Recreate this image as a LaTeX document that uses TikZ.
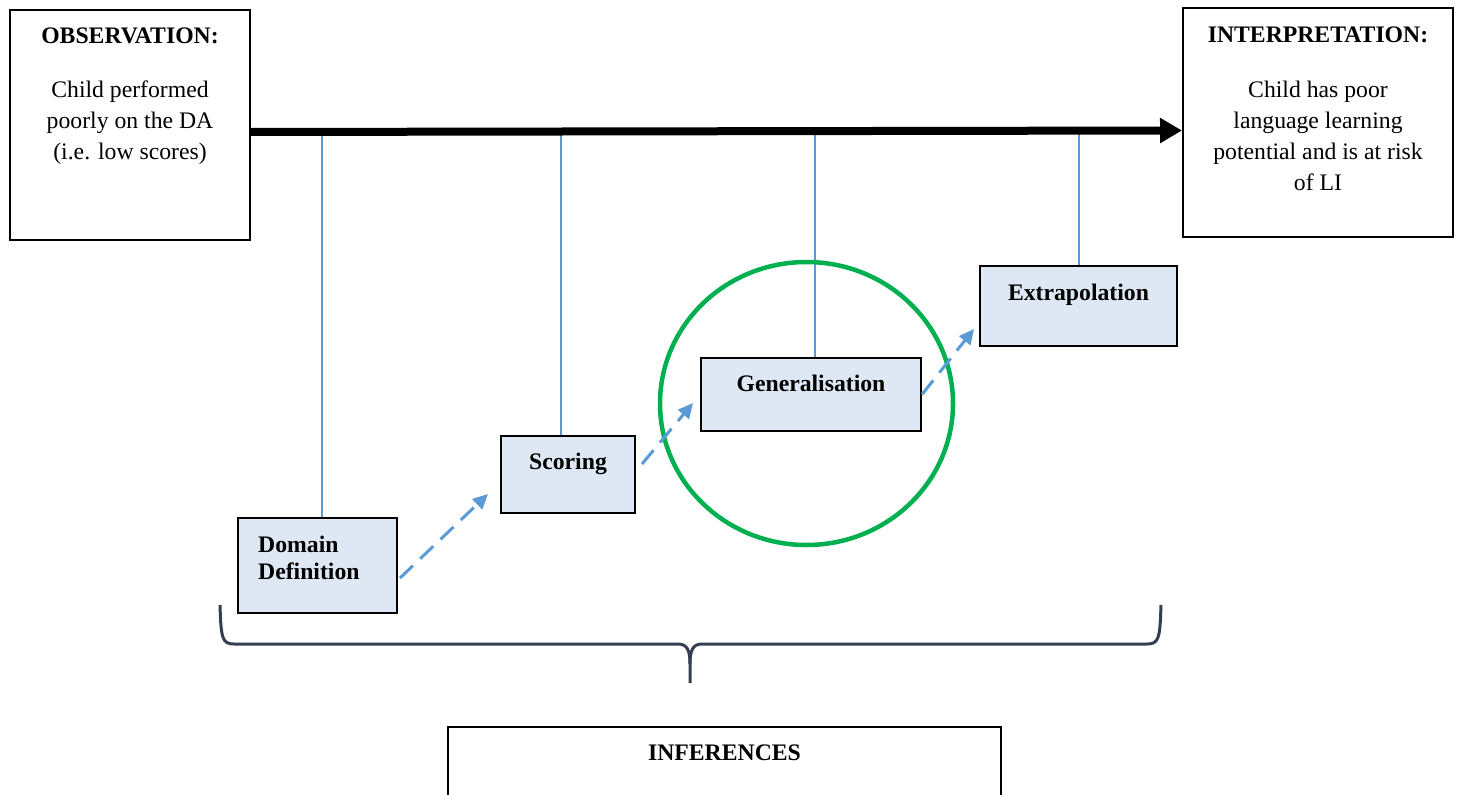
\documentclass[tikz,border=0pt]{standalone}
\usepackage{fontspec}
\setmainfont{Liberation Serif}
\usetikzlibrary{arrows.meta,calc}
\definecolor{boxblue}{HTML}{DEE8F4}
\definecolor{lineblue}{HTML}{5B9BD5}
\definecolor{circgreen}{HTML}{00B050}
\definecolor{bracec}{HTML}{333F50}
\begin{document}
\begin{tikzpicture}[x=1pt,y=-1pt,
  frame/.style={draw=black, line width=2pt, inner sep=0pt, anchor=north west, fill=white},
  stepbox/.style={frame, fill=boxblue},
  ttl/.style={font=\bfseries\fontsize{23.7}{27}\selectfont, inner sep=0pt},
  body/.style={font=\fontsize{23.7}{31}\selectfont, align=center, anchor=north, inner sep=0pt},
  dasharr/.style={draw=lineblue, line width=3pt, dash pattern=on 18pt off 10pt, -{Triangle[length=15pt,width=14pt]}},
  vline/.style={draw=lineblue, line width=1.4pt}]
\useasboundingbox (0,0) rectangle (1459,795);
\clip (0,0) rectangle (1459,795);

% outer boxes
\node[frame, minimum width=240, minimum height=230] (obs) at (9,9) {};
\node[ttl, anchor=base] (obsT) at ($(obs.north)+(0,34)$) {OBSERVATION:};
\node[body] (obsB) at ($(obs.north)+(0,71.5)$) {Child performed\\poorly on the DA\\(i.e. low scores)};

\node[frame, minimum width=270, minimum height=229] (int) at (1182,7) {};
\node[ttl, anchor=base] (intT) at ($(int.north)+(0,35)$) {INTERPRETATION:};
\node[body] (intB) at ($(int.north)+(0,73.5)$) {Child has poor\\language learning\\potential and is at risk\\of LI};

% inference steps
\node[stepbox, minimum width=159, minimum height=95] (dom) at (237,517) {};
\node[ttl, align=left, anchor=north west, font=\bfseries\fontsize{23.7}{27}\selectfont] (domT) at ($(dom.north west)+(21,18.8)$) {Domain\\Definition};

\node[stepbox, minimum width=134, minimum height=77] (scr) at (500,435) {};
\node[ttl, anchor=base] (scrT) at ($(scr.north)+(0,34)$) {Scoring};

\node[stepbox, minimum width=220, minimum height=73] (gen) at (700,357) {};
\node[ttl, anchor=base] (genT) at ($(gen.north)+(0,34)$) {Generalisation};

\node[stepbox, minimum width=197, minimum height=80] (ext) at (979,265) {};
\node[ttl, anchor=base] (extT) at ($(ext.north)+(0,35)$) {Extrapolation};

% thin links from the main arrow
\coordinate (v1) at (322,132);
\coordinate (v2) at (561,132);
\coordinate (v3) at (815,132);
\coordinate (v4) at (1079,131);
\draw[vline] (v1) -- (v1 |- dom.north);
\draw[vline] (v2) -- (v2 |- scr.north);
\draw[vline] (v3) -- (v3 |- gen.north);
\draw[vline] (v4) -- (v4 |- ext.north);

% main arrow
\draw[line width=8pt, -{Triangle[length=22pt,width=24pt]}] ($(obs.east)+(0,7)$) -- ($(int.west)+(0,8)$);

% highlight
\draw[circgreen, line width=4.5pt] (806.5,403.5) ellipse [x radius=146.5, y radius=141.5];

% dashed progression arrows
\draw[dasharr] ($(dom.east)+(2,12.5)$) -- ($(scr.west)+(-12,19.5)$);
\draw[dasharr] ($(scr.east)+(6,-10.5)$) -- ($(gen.west)+(-7,8.5)$);
\draw[dasharr] ($(gen.east)+(0,0)$) -- ($(ext.west)+(-5,23)$);

% brace
\coordinate (bl) at (220,605);
\coordinate (br) at (1161,605);
\coordinate (bt) at (690,683);
\draw[bracec, line width=3pt, line join=round]
  (bl) .. controls (221,638) and (222,644) .. (234,644) -- (678,644)
  .. controls (687,644) and (690,650) .. (690,664) -- (bt);
\draw[bracec, line width=3pt, line join=round]
  (br) .. controls (1160,638) and (1159,644) .. (1147,644) -- (702,644)
  .. controls (693,644) and (690,650) .. (690,664);

% inferences box
\node[frame, minimum width=553, minimum height=100] (inf) at (447,726) {};
\node[ttl, anchor=base] (infT) at ($(inf.north)+(0,34)$) {INFERENCES};
\end{tikzpicture}
\end{document}
